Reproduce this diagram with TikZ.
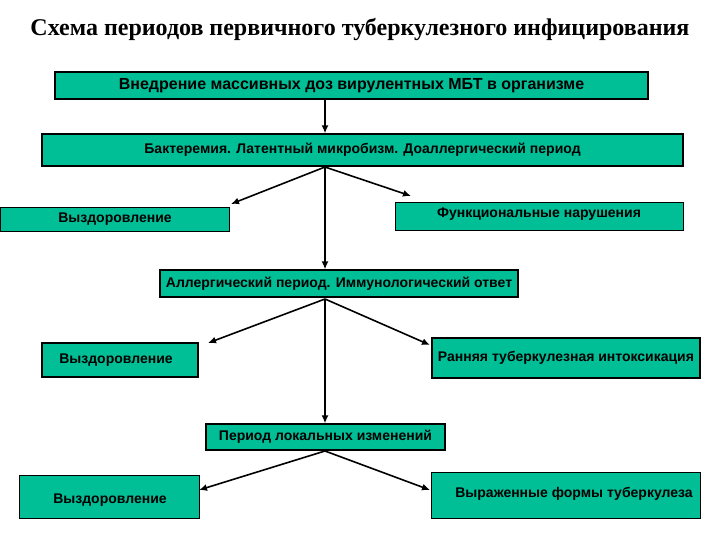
\documentclass[tikz,border=0pt]{standalone}
\usepackage{fontspec}
\setmainfont{Liberation Sans}
\newfontfamily\titlefont{Liberation Serif}
\definecolor{boxteal}{RGB}{0,190,150}
\usetikzlibrary{arrows.meta}
\begin{document}
\begin{tikzpicture}[x=1pt,y=-1pt,
  bx/.style={draw=black,line width=1.2pt,fill=boxteal,inner sep=0pt,font=\bfseries\fontsize{14}{17}\selectfont},
  tx/.style={font=\bfseries\fontsize{14}{17}\selectfont},
  arr/.style={-{Latex[length=8pt,width=7pt]},line width=1.6pt}]
\useasboundingbox (0,0) rectangle (720,540);
\node[font=\titlefont\bfseries\fontsize{24}{28}\selectfont] (title) at (360,30) {Схема периодов первичного туберкулезного инфицирования};
\node[bx,minimum width=593pt,minimum height=27pt,font=\bfseries\fontsize{16}{18}\selectfont] (b1) at (351.5,85.5) {Внедрение массивных доз вирулентных МБТ в организме};
\node[bx,minimum width=641pt,minimum height=32pt] (b2) at (362.5,150) {Бактеремия. Латентный микробизм. Доаллергический период};
\node[bx,minimum width=229pt,minimum height=24pt,anchor=north west] (b3) at (0,207) {};
\node[tx] at (115,219) {Выздоровление};
\node[bx,minimum width=288pt,minimum height=28pt,anchor=north west] (b4) at (395,202) {};
\node[tx] at (539,214) {Функциональные нарушения};
\node[bx,minimum width=358pt,minimum height=27pt] (b5) at (339,283.5) {Аллергический период. Иммунологический ответ};
\node[bx,minimum width=156pt,minimum height=34pt] (b6) at (120,360) {};
\node[tx] at (116,360) {Выздоровление};
\node[bx,minimum width=268pt,minimum height=40pt] (b7) at (566,358) {Ранняя туберкулезная интоксикация};
\node[bx,minimum width=239pt,minimum height=26pt] (b8) at (325.5,437) {Период локальных изменений};
\node[bx,minimum width=180pt,minimum height=43pt,anchor=north west] (b9) at (19,475) {};
\node[tx] at (110,500) {Выздоровление};
\node[bx,minimum width=269pt,minimum height=46pt,anchor=north west] (b10) at (431,472) {};
\node[tx] at (574,494) {Выраженные формы туберкулеза};
\coordinate (s1) at (325,167);
\coordinate (s2) at (325,299);
\coordinate (s3) at (325,451);
\draw[arr] (b1.south -| s1) -- (b2.north -| s1);
\draw[arr] (s1) -- (b5.north -| s1);
\draw[arr] (s1) -- (231,204);
\draw[arr] (s1) -- (411,196);
\draw[arr] (s2) -- (b8.north -| s2);
\draw[arr] (s2) -- (208,343);
\draw[arr] (s2) -- (430,345);
\draw[arr] (s3) -- (199,490);
\draw[arr] (s3) -- (430,490);
\end{tikzpicture}
\end{document}
